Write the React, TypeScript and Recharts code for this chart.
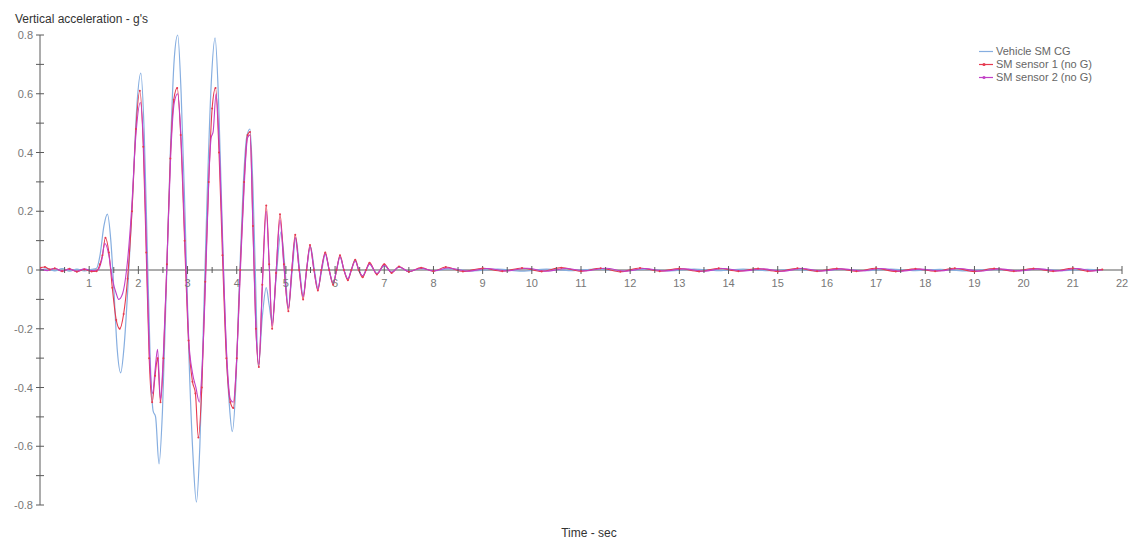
import React from 'react';
import { LineChart, Line, XAxis, YAxis, ReferenceLine, ReferenceDot } from 'recharts';

// chart size (fixed)
const W = 1132;
const H = 543;
const FONT = '"Liberation Sans", Arial, sans-serif';

// axis ticks
const timeTicks = [1, 2, 3, 4, 5, 6, 7, 8, 9, 10, 11, 12, 13, 14, 15, 16, 17, 18, 19, 20, 21, 22];
const halfTicks = [0.5, 1.5, 2.5, 3.5, 4.5, 5.5, 6.5, 7.5, 8.5, 9.5, 10.5, 11.5, 12.5, 13.5, 14.5, 15.5, 16.5, 17.5, 18.5, 19.5, 20.5, 21.5];
const accelTicks = [-0.8, -0.7, -0.6, -0.5, -0.4, -0.3, -0.2, -0.1, 0, 0.1, 0.2, 0.3, 0.4, 0.5, 0.6, 0.7, 0.8];
const accelLabels = ['-0.8', '-0.6', '-0.4', '-0.2', '0', '0.2', '0.4', '0.6', '0.8'];

const seriesNames = ['Vehicle SM CG', 'SM sensor 1 (no G)', 'SM sensor 2 (no G)'];
const seriesColors = ['#86aee0', '#e6394f', '#c23fc6'];

// [time sec, vertical acceleration g]
const vehicleCG: [number, number][] = [
  [0, 0], [0.15, 0.004], [0.3, -0.003], [0.45, 0.005], [0.6, -0.004], [0.75, 0.003], [0.9, -0.003], [1.05, 0.002], [1.15, 0.006],
  [1.22, 0.05], [1.3, 0.15], [1.37, 0.19], [1.44, 0.1], [1.5, -0.06], [1.57, -0.27], [1.64, -0.35], [1.71, -0.26], [1.79, -0.05],
  [1.88, 0.24], [1.97, 0.56], [2.05, 0.67], [2.12, 0.46], [2.18, 0.08], [2.24, -0.3], [2.3, -0.48], [2.35, -0.5], [2.42, -0.66],
  [2.49, -0.48], [2.57, -0.05], [2.65, 0.4], [2.73, 0.72], [2.8, 0.8], [2.87, 0.6], [2.95, 0.18], [3.03, -0.3], [3.11, -0.63],
  [3.18, -0.79], [3.25, -0.6], [3.32, -0.2], [3.4, 0.26], [3.48, 0.63], [3.56, 0.79], [3.63, 0.58], [3.7, 0.18], [3.77, -0.2],
  [3.85, -0.46], [3.91, -0.55], [3.98, -0.4], [4.05, -0.06], [4.13, 0.28], [4.2, 0.45], [4.27, 0.48], [4.33, 0.28], [4.38, -0.02],
  [4.44, -0.33], [4.52, -0.16], [4.6, -0.06], [4.66, -0.12], [4.72, -0.18], [4.8, -0.03], [4.9, 0.13], [4.98, 0.01], [5.05, -0.13],
  [5.13, 0], [5.2, 0.11], [5.28, 0], [5.35, -0.09], [5.42, 0], [5.5, 0.08], [5.58, 0], [5.65, -0.06], [5.73, 0], [5.8, 0.055],
  [5.88, 0], [5.96, -0.045], [6.03, 0], [6.1, 0.045], [6.18, 0], [6.26, -0.03], [6.33, 0], [6.41, 0.035], [6.48, 0], [6.56, -0.02],
  [6.63, 0], [6.7, 0.02], [6.85, -0.012], [7.0, 0.015], [7.15, -0.008], [7.3, 0.01], [7.5, -0.005], [7.75, 0.005], [8.0, -0.003],
  [8.3, 0.004], [8.8, -0.003], [9.3, 0.003], [9.8, -0.004], [10.3, 0.003], [10.8, -0.002], [11.3, 0.003], [11.8, -0.003],
  [12.3, 0.002], [12.8, -0.003], [13.3, 0.003], [13.8, -0.002], [14.3, 0.003], [14.8, -0.002], [15.3, 0.002], [15.8, -0.003],
  [16.3, 0.002], [16.8, -0.002], [17.3, 0.003], [17.8, -0.002], [18.3, 0.002], [18.8, -0.003], [19.3, 0.002], [19.8, -0.002],
  [20.3, 0.003], [20.8, -0.002], [21.3, 0.002], [21.6, 0],
];

const sensor1: [number, number][] = [
  [0, 0.008], [0.1, 0.01], [0.2, 0.002], [0.3, 0.006], [0.45, -0.004], [0.6, 0.004], [0.75, -0.006], [0.9, 0.002], [1.05, -0.005],
  [1.15, -0.004], [1.22, 0.02], [1.27, 0.05], [1.33, 0.11], [1.4, 0.06], [1.47, -0.06], [1.55, -0.17], [1.62, -0.2], [1.7, -0.15],
  [1.78, -0.03], [1.87, 0.2], [1.95, 0.48], [2.03, 0.61], [2.1, 0.42], [2.16, 0.06], [2.22, -0.3], [2.28, -0.45], [2.34, -0.36],
  [2.39, -0.3], [2.45, -0.45], [2.51, -0.3], [2.58, 0.02], [2.65, 0.38], [2.72, 0.58], [2.79, 0.62], [2.86, 0.46], [2.94, 0.1],
  [3.02, -0.24], [3.1, -0.38], [3.16, -0.42], [3.22, -0.57], [3.29, -0.4], [3.36, -0.04], [3.43, 0.3], [3.5, 0.55], [3.57, 0.62],
  [3.64, 0.4], [3.71, 0.05], [3.79, -0.3], [3.87, -0.45], [3.93, -0.47], [4.0, -0.3], [4.07, 0], [4.15, 0.3], [4.22, 0.46],
  [4.27, 0.47], [4.33, 0.15], [4.39, -0.2], [4.45, -0.33], [4.52, -0.05], [4.6, 0.22], [4.66, 0.02], [4.72, -0.2], [4.8, -0.01],
  [4.88, 0.19], [4.96, 0.02], [5.05, -0.14], [5.12, 0], [5.19, 0.12], [5.27, 0], [5.35, -0.1], [5.42, 0], [5.49, 0.085], [5.57, 0],
  [5.65, -0.07], [5.72, 0], [5.8, 0.06], [5.88, 0], [5.96, -0.05], [6.03, 0], [6.1, 0.05], [6.18, 0], [6.26, -0.035], [6.33, 0],
  [6.41, 0.035], [6.48, 0], [6.56, -0.025], [6.63, 0], [6.7, 0.025], [6.85, -0.015], [7.0, 0.02], [7.15, -0.01], [7.3, 0.012],
  [7.5, -0.006], [7.75, 0.008], [8.0, -0.004], [8.25, 0.01], [8.6, -0.005], [9.0, 0.006], [9.4, -0.004], [9.8, 0.007],
  [10.2, -0.005], [10.6, 0.008], [11.0, -0.004], [11.4, 0.006], [11.8, -0.006], [12.2, 0.007], [12.6, -0.004], [13.0, 0.005],
  [13.4, -0.005], [13.8, 0.006], [14.2, -0.004], [14.6, 0.005], [15.0, -0.005], [15.4, 0.006], [15.8, -0.004], [16.2, 0.005],
  [16.6, -0.004], [17.0, 0.006], [17.4, -0.005], [17.8, 0.004], [18.2, -0.004], [18.6, 0.006], [19.0, -0.005], [19.4, 0.005],
  [19.8, -0.004], [20.2, 0.005], [20.6, -0.004], [21.0, 0.006], [21.3, -0.004], [21.6, 0.002],
];

const sensor2: [number, number][] = [
  [0, 0.004], [0.15, -0.002], [0.3, 0.005], [0.45, -0.003], [0.6, 0.003], [0.75, -0.004], [0.9, 0.004], [1.05, -0.002], [1.18, 0],
  [1.25, 0.03], [1.32, 0.09], [1.4, 0.05], [1.47, -0.03], [1.55, -0.08], [1.6, -0.1], [1.68, -0.08], [1.76, 0], [1.86, 0.2],
  [1.95, 0.46], [2.04, 0.57], [2.11, 0.4], [2.17, 0.04], [2.23, -0.3], [2.29, -0.42], [2.34, -0.34], [2.39, -0.27], [2.45, -0.44],
  [2.51, -0.28], [2.58, 0.02], [2.66, 0.4], [2.73, 0.57], [2.8, 0.6], [2.87, 0.44], [2.95, 0.08], [3.03, -0.25], [3.1, -0.35],
  [3.17, -0.4], [3.24, -0.45], [3.3, -0.32], [3.37, -0.02], [3.43, 0.3], [3.48, 0.45], [3.52, 0.47], [3.58, 0.6], [3.65, 0.4],
  [3.72, 0.05], [3.8, -0.3], [3.87, -0.44], [3.93, -0.45], [4.0, -0.3], [4.07, -0.02], [4.15, 0.28], [4.22, 0.45], [4.27, 0.46],
  [4.33, 0.14], [4.39, -0.2], [4.45, -0.32], [4.52, -0.06], [4.6, 0.2], [4.66, 0.02], [4.72, -0.19], [4.8, -0.01], [4.88, 0.17],
  [4.96, 0.01], [5.05, -0.13], [5.12, 0], [5.19, 0.11], [5.27, 0], [5.35, -0.09], [5.42, 0], [5.49, 0.08], [5.57, 0],
  [5.65, -0.065], [5.72, 0], [5.8, 0.055], [5.88, 0], [5.96, -0.045], [6.03, 0], [6.1, 0.045], [6.18, 0], [6.26, -0.03], [6.33, 0],
  [6.41, 0.03], [6.48, 0], [6.56, -0.02], [6.63, 0], [6.7, 0.02], [6.85, -0.012], [7.0, 0.016], [7.15, -0.008], [7.3, 0.01],
  [7.5, -0.005], [7.75, 0.006], [8.0, -0.003], [8.3, 0.007], [8.7, -0.004], [9.1, 0.005], [9.5, -0.003], [9.9, 0.006],
  [10.3, -0.004], [10.7, 0.005], [11.1, -0.003], [11.5, 0.006], [11.9, -0.004], [12.3, 0.005], [12.7, -0.003], [13.1, 0.004],
  [13.5, -0.004], [13.9, 0.005], [14.3, -0.003], [14.7, 0.004], [15.1, -0.004], [15.5, 0.005], [15.9, -0.003], [16.3, 0.004],
  [16.7, -0.003], [17.1, 0.005], [17.5, -0.004], [17.9, 0.003], [18.3, -0.003], [18.7, 0.005], [19.1, -0.004], [19.5, 0.004],
  [19.9, -0.003], [20.3, 0.004], [20.7, -0.003], [21.1, 0.005], [21.4, -0.003], [21.6, 0.001],
];

const toRows = (pts: [number, number][]) => pts.map(([t, v]) => ({ t, v }));

const AXIS = '#5a5a5a';
const TICK_TEXT = '#777';

const YTick = (props: any) => {
  const { x, y, payload } = props;
  const v = payload.value as number;
  const label = accelLabels.find((s) => Math.abs(parseFloat(s) - v) < 1e-6);
  return (
    <g>
      <line x1={x - 4} x2={x + 4} y1={y} y2={y} stroke={AXIS} />
      {label && (
        <text x={x - 7} y={y} dy={4} textAnchor="end" fontSize={11} fontFamily={FONT} fill={TICK_TEXT}>
          {label}
        </text>
      )}
    </g>
  );
};

export default function App() {
  return (
    <div style={{ position: 'absolute', left: 0, top: 0, width: W, height: H, background: '#fff' }}>
      <div style={{ position: 'absolute', left: 15, top: 12, fontFamily: FONT, fontSize: 12, color: '#333' }}>
        Vertical acceleration - g's
      </div>
      <div style={{ position: 'absolute', left: 0, width: W, top: 526, textAlign: 'center', paddingLeft: 46, boxSizing: 'border-box', fontFamily: FONT, fontSize: 12, color: '#333' }}>
        Time - sec
      </div>
      <LineChart width={W} height={H} margin={{ top: 35, right: 10, bottom: 38, left: 0 }}>
        <XAxis type="number" dataKey="t" domain={[0, 22]} hide allowDataOverflow />
        <YAxis
          type="number"
          domain={[-0.8, 0.8]}
          ticks={accelTicks}
          width={40}
          tickSize={0}
          tickMargin={0}
          tickLine={false}
          axisLine={{ stroke: AXIS }}
          tick={<YTick />}
          interval={0}
        />
        <ReferenceLine y={0} stroke={AXIS} />
        {halfTicks.map((t) => (
          <ReferenceDot
            key={'h' + t}
            x={t}
            y={0}
            r={1}
            shape={(p: any) => <line x1={p.cx} x2={p.cx} y1={p.cy - 3} y2={p.cy + 3} stroke={AXIS} />}
          />
        ))}
        {timeTicks.map((t) => (
          <ReferenceDot
            key={'t' + t}
            x={t}
            y={0}
            r={1}
            shape={(p: any) => (
              <g>
                <line x1={p.cx} x2={p.cx} y1={p.cy - 4} y2={p.cy + 4} stroke={AXIS} />
                <text x={p.cx} y={p.cy + 17} textAnchor="middle" fontSize={11} fontFamily={FONT} fill={TICK_TEXT}>
                  {t}
                </text>
              </g>
            )}
          />
        ))}
        <Line
          data={toRows(vehicleCG)}
          dataKey="v"
          name={seriesNames[0]}
          type="monotone"
          stroke={seriesColors[0]}
          strokeWidth={1.2}
          dot={false}
          isAnimationActive={false}
        />
        <Line
          data={toRows(sensor1)}
          dataKey="v"
          name={seriesNames[1]}
          type="monotone"
          stroke={seriesColors[1]}
          strokeWidth={1.1}
          dot={{ r: 1, fill: seriesColors[1], stroke: 'none' }}
          isAnimationActive={false}
        />
        <Line
          data={toRows(sensor2)}
          dataKey="v"
          name={seriesNames[2]}
          type="monotone"
          stroke={seriesColors[2]}
          strokeWidth={1.1}
          dot={false}
          isAnimationActive={false}
        />
      </LineChart>
      <div style={{ position: 'absolute', left: 978, top: 45, fontFamily: FONT, fontSize: 11, color: '#666', lineHeight: '13px' }}>
        {seriesNames.map((name, i) => (
          <div key={name} style={{ display: 'flex', alignItems: 'center', height: 13 }}>
            <svg width={16} height={9} style={{ marginRight: 2 }}>
              <line x1={1} x2={15} y1={4.5} y2={4.5} stroke={seriesColors[i]} strokeWidth={1.2} />
              {i > 0 && <circle cx={6} cy={4.5} r={1.6} fill={seriesColors[i]} />}
            </svg>
            <span>{name}</span>
          </div>
        ))}
      </div>
    </div>
  );
}
